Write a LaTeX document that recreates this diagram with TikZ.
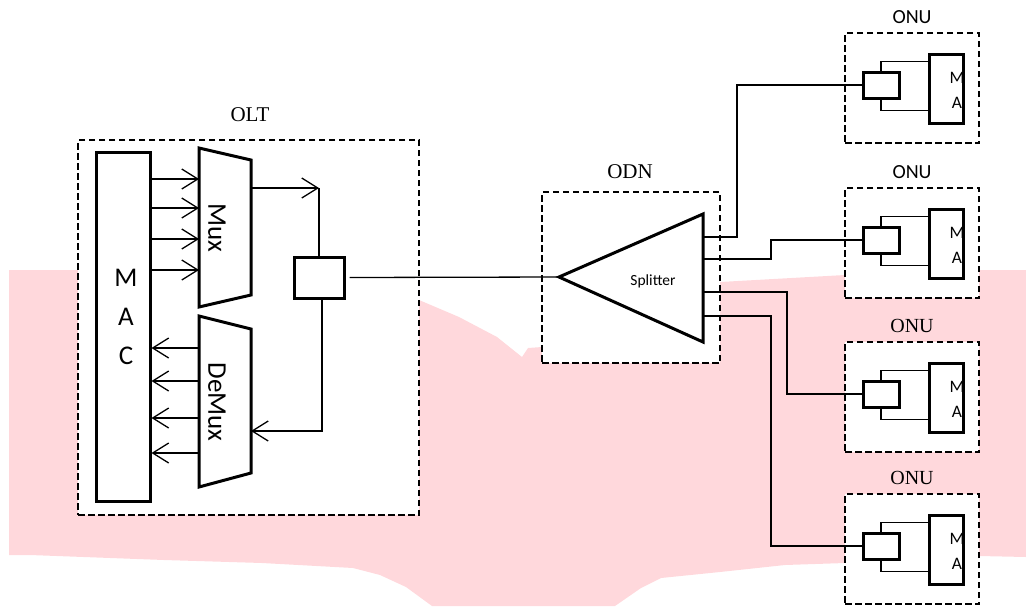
\documentclass[tikz,border=0pt]{standalone}
\usepackage{fontspec}
\setmainfont{Liberation Serif}
\setsansfont{Carlito}
\usetikzlibrary{arrows.meta}
\definecolor{bgpink}{RGB}{255,216,220}
\tikzset{
  dashbox/.style={draw, dash pattern=on 6.5pt off 3.5pt, line width=2.7pt, fill=white, inner sep=0pt},
  thickbox/.style={draw, line width=3pt, fill=white, inner sep=0pt},
  thickline/.style={line width=3pt, line join=miter},
  wire/.style={line width=1.3pt},
  arr/.style={wire, -{Straight Barb[length=16pt,width=20pt,line width=1.3pt]}},
  lbl/.style={font=\fontsize{21}{21}\selectfont},
  bigsans/.style={font=\sffamily\fontsize{27}{39}\selectfont, inner sep=0pt},
  smallsans/.style={font=\sffamily\fontsize{15.5}{16}\selectfont, inner sep=0pt},
  onusans/.style={font=\sffamily\fontsize{17.5}{17.5}\selectfont, inner sep=0pt}
}
\begin{document}
\begin{tikzpicture}[x=1pt,y=-1pt]
\useasboundingbox (0,0) rectangle (1026,606);
% background
\fill[bgpink] (9,270) -- (419,270) -- (419,300) -- (459,317) -- (497,337) -- (522,357) -- (528,348) -- (542,347) -- (542,282) -- (720,282) -- (845,275) -- (979,270) -- (1026,270) -- (1026,557) -- (979,556) -- (845,563) -- (785,565) -- (720,572) -- (661,578) -- (641,588) -- (615,606) -- (432,606) -- (406,587) -- (380,575) -- (353,568) -- (262,563) -- (164,560) -- (30,555) -- (9,555) -- cycle;

% OLT
\node[dashbox, minimum width=341pt, minimum height=375pt] (olt) at (248.5,327.5) {};
\node[lbl] (oltlbl) at (250,115) {OLT};
\node[thickbox, minimum width=54pt, minimum height=349pt] (mac) at (123,326.5) {};
\node[bigsans, align=center] (mactext) at (126,317) {M\\A\\C};
\draw[thickline, fill=white] (199,148) -- (251,160) -- (251,295) -- (199,307) -- cycle;
\draw[thickline, fill=white] (199,316) -- (251,329) -- (251,473) -- (199,487) -- cycle;
\node[bigsans, rotate=-90] (muxtext) at (217,228) {Mux};
\node[bigsans, rotate=-90] (demuxtext) at (217,402) {DeMux};
\coordinate (muxw) at (199,227);
\coordinate (demuxw) at (199,402);
\coordinate (muxout) at (251,188);
\coordinate (demuxin) at (251,431);
\coordinate (mxcorner) at (319,188);
\foreach \yy in {179,208,239,270}
  \draw[arr] (mac.east |- 0,\yy) -- (muxw |- 0,\yy);
\foreach \yy in {348,381,418,453}
  \draw[arr] (demuxw |- 0,\yy) -- (mac.east |- 0,\yy);
\node[thickbox, minimum width=50pt, minimum height=41pt] (otr) at (319,277.5) {};
\draw[arr] (muxout) -- (mxcorner);
\draw[wire] (mxcorner) -- (otr.north);
\draw[arr] ([xshift=3pt]otr.south) |- (demuxin);

% ODN
\node[dashbox, minimum width=178pt, minimum height=171pt] (odn) at (631,277.5) {};
\node[lbl] (odnlbl) at (630,172) {ODN};
\coordinate (tip) at (559,277);
\coordinate (sb1) at (703,214);
\coordinate (sb2) at (703,342);
\draw[thickline] (tip) -- (sb1) -- (sb2) -- cycle;
\node[smallsans] (spl) at (653,281) {Splitter};
\draw[wire] ([xshift=4pt]otr.east) -- (tip);
\coordinate (p1) at (703,237);
\coordinate (p2) at (703,259);
\coordinate (p3) at (703,292);
\coordinate (p4) at (703,316);

% ONUs
\foreach \T/\f [count=\i] in {33/\sffamily, 188/\sffamily, 342/\rmfamily, 494/\rmfamily} {
  \node[dashbox, minimum width=134pt, minimum height=110pt] (onu\i) at (912,\T+55) {};
  \node[font=\f\fontsize{20}{20}\selectfont] (onulbl\i) at (912,\T-16) {ONU};
  \node[thickbox, minimum width=36pt, minimum height=26pt] (otr\i) at (881,\T+52) {};
  \node[thickbox, minimum width=34pt, minimum height=69pt] (omac\i) at (946,\T+55.5) {};
  \draw[wire] (otr\i.north) |- ([yshift=-9pt]omac\i.north west);
  \draw[wire] (otr\i.south) |- ([yshift=14pt]omac\i.south west);
  \node[onusans] (om\i) at (957,\T+45) {M};
  \node[onusans] (oa\i) at (957,\T+70) {A};
}
\draw[wire] (p1) -- ++(34,0) |- (otr1.west);
\draw[wire] (p2) -- ++(68,0) |- (otr2.west);
\draw[wire] (p3) -- ++(84,0) |- (otr3.west);
\draw[wire] (p4) -- ++(68,0) |- (otr4.west);
\end{tikzpicture}
\end{document}
